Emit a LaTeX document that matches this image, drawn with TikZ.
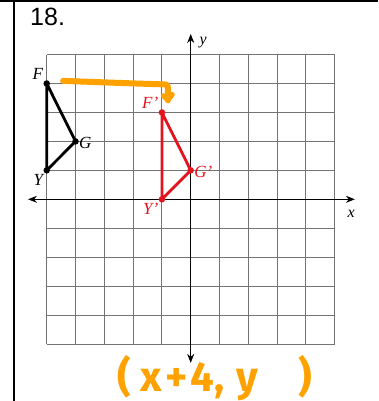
\documentclass[tikz,border=0pt]{standalone}
\usepackage{fontspec}
\setmainfont{Liberation Serif}
\newfontfamily\headfont{Liberation Sans}
\newfontfamily\handfont{Fira Sans}
\usetikzlibrary{arrows.meta,positioning}
\definecolor{imgred}{RGB}{228,20,30}
\definecolor{penorange}{RGB}{255,162,0}

\begin{document}
\begin{tikzpicture}[
    x=28.8pt, y=28.95pt,
    gridline/.style={draw=black!55, line width=0.9pt, step=1},
    axis/.style={line width=1.1pt, {Stealth[length=9pt,width=7pt]}-{Stealth[length=9pt,width=7pt]}},
    bdot/.style={circle, fill=black, inner sep=0pt, minimum size=6.5pt},
    rdot/.style={circle, fill=imgred, inner sep=0pt, minimum size=6.5pt},
    lab/.style={font=\fontsize{17}{17}\selectfont\itshape, inner sep=1pt},
    tri/.style={line width=2.8pt, line join=round},
    pen/.style={draw=penorange, line width=6pt, line cap=round, line join=round},
  ]
    \useasboundingbox (-6.622,-6.967) rectangle (6.503,6.884);
    \fill[white] (-6.622,-6.967) rectangle (6.503,6.884);
    \draw[line width=2pt] (-6.622,6.85) -- (6.503,6.85);
    \draw[line width=2pt] (-6.135,6.884) -- (-6.135,-6.967);
    \node[font=\headfont\fontsize{25}{25}\selectfont, anchor=base west, inner sep=0pt] (num) at (-5.58,6.02) {18.};

    \draw[gridline] (-5,-5) grid (5,5);
    \draw[axis] (-5.65,0) -- (5.7,0);
    \draw[axis] (0,-5.65) -- (0,5.71);
    \node[lab, font=\fontsize{16}{16}\selectfont\itshape] (ylab) at (0.43,5.40) {y};
    \node[lab, font=\fontsize{16}{16}\selectfont\itshape] (xlab) at (5.57,-0.51) {x};

    \node[bdot, label={[lab]above left:F}] (F) at (-5,4) {};
    \node[bdot, label={[lab, xshift=-1pt, yshift=-2pt]right:G}] (G) at (-4,2) {};
    \node[bdot, label={[lab]below left:Y}] (Y) at (-5,1) {};
    \draw[tri] (F.center) -- (G.center) -- (Y.center) -- cycle;

    \node[rdot, label={[lab, text=imgred]above left:F'}] (F1) at (-1,3) {};
    \node[rdot, label={[lab, text=imgred, xshift=-1pt, yshift=-2pt]right:G'}] (G1) at (0,1) {};
    \node[rdot, label={[lab, text=imgred]below left:Y'}] (Y1) at (-1,0) {};
    \draw[tri, imgred] (F1.center) -- (G1.center) -- (Y1.center) -- cycle;

    \coordinate (penstart) at (-4.43,4.09);
    \coordinate (penend) at (-0.79,3.42);
    \draw[pen] (penstart) .. controls (-3,4.04) and (-2,4.0) .. (-0.95,3.97)
      .. controls (-0.8,3.96) .. (-0.79,3.8) -- (penend);
    \draw[pen, line width=5pt] (-0.95,3.58) -- (penend) -- (-0.64,3.62);

    \node[font=\handfont\bfseries\fontsize{42}{42}\selectfont, text=penorange, anchor=base west, inner sep=0pt] (rule) at (-2.56,-6.656) {(\hspace{10pt}x\hspace{3pt}+\hspace{3pt}4,\hspace{12pt}y\hspace{40pt})};
  \end{tikzpicture}
\end{document}
